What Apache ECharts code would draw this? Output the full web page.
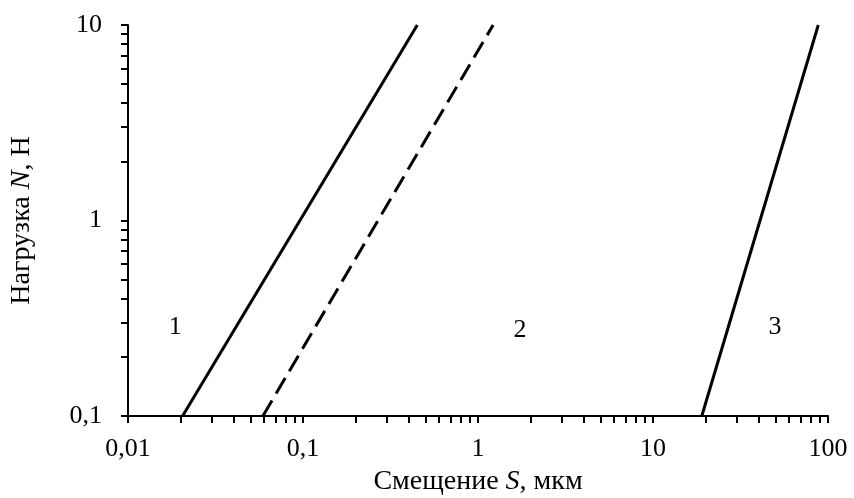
<!DOCTYPE html>
<html>
<head>
<meta charset="utf-8">
<script src="https://cdn.jsdelivr.net/npm/echarts@6/dist/echarts.min.js"></script>
<style>
  html, body { margin: 0; padding: 0; background: #fff; }
  #chart { width: 854px; height: 498px; }
</style>
</head>
<body>
<div id="chart"></div>
<script>
// границы областей 1|2|3 (смещение S, мкм  при нагрузке N, Н)
var loadN = [0.1, 10];
var line1S = [0.0205, 0.45];
var line2S = [0.059, 1.22];
var line3S = [19, 88];

// подписи областей
var regionNames = ['1', '2', '3'];
var regionS = [0.0186, 1.74, 49.8];
var regionN = [0.285, 0.275, 0.285];

var xTickLabels = [0.01, 0.1, 1, 10, 100];
var yTickLabels = [0.1, 1, 10];
var xTicks = [];
var yTicks = [];
[0.01, 0.1, 1, 10].forEach(function (d) {
  for (var k = 1; k < 10; k++) xTicks.push(+(k * d).toPrecision(3));
});
xTicks.push(100);
[0.1, 1].forEach(function (d) {
  for (var k = 1; k < 10; k++) yTicks.push(+(k * d).toPrecision(3));
});
yTicks.push(10);

var FONT = '"Liberation Serif", "Times New Roman", serif';
var fmt = function (v) { return String(v).replace('.', ','); };

var chart = echarts.init(document.getElementById('chart'));

var axisCommon = {
  type: 'log',
  logBase: 10,
  axisLine: { show: true, lineStyle: { color: '#000', width: 2 } },
  axisTick: { show: true, inside: false, length: 7, lineStyle: { color: '#000', width: 2 } },
  minorTick: { show: false },
  splitLine: { show: false },
  nameLocation: 'middle',
  nameTextStyle: {
    fontFamily: FONT, fontSize: 28, color: '#000',
    rich: {
      a: { fontFamily: FONT, fontSize: 28, color: '#000' },
      i: { fontFamily: FONT, fontSize: 28, color: '#000', fontStyle: 'italic' }
    }
  }
};

function pairs(xs, ys) {
  return xs.map(function (x, i) { return [x, ys[i]]; });
}

chart.setOption({
  animation: false,
  backgroundColor: '#fff',
  grid: { left: 128, right: 26, top: 25, bottom: 82, outerBoundsMode: 'none', containLabel: false },
  xAxis: Object.assign({}, axisCommon, {
    min: 0.01, max: 100,
    name: '{a|Смещение }{i|S}{a|, мкм}',
    nameGap: 52,
    axisTick: Object.assign({}, axisCommon.axisTick, { customValues: xTicks }),
    axisLabel: { customValues: xTickLabels, formatter: fmt, margin: 20,
      fontFamily: FONT, fontSize: 26, color: '#000' }
  }),
  yAxis: Object.assign({}, axisCommon, {
    min: 0.1, max: 10,
    name: '{a|Нагрузка }{i|N}{a|, Н}',
    nameGap: 92,
    axisTick: Object.assign({}, axisCommon.axisTick, { customValues: yTicks }),
    axisLabel: { customValues: yTickLabels, formatter: fmt, margin: 26,
      fontFamily: FONT, fontSize: 26, color: '#000' }
  }),
  series: [
    {
      type: 'line', data: pairs(line1S, loadN), symbol: 'none',
      lineStyle: { color: '#000', width: 3 }
    },
    {
      type: 'line', data: pairs(line2S, loadN), symbol: 'none',
      lineStyle: { color: '#000', width: 3, type: [18, 8] }
    },
    {
      type: 'line', data: pairs(line3S, loadN), symbol: 'none',
      lineStyle: { color: '#000', width: 3 }
    },
    {
      type: 'scatter', symbolSize: 1,
      itemStyle: { color: 'rgba(0,0,0,0)', opacity: 1 },
      data: regionS.map(function (s, i) { return { value: [s, regionN[i]], name: regionNames[i] }; }),
      label: { show: true, position: 'inside', formatter: '{b}',
        fontFamily: FONT, fontSize: 26, color: '#000', textBorderWidth: 0 }
    }
  ]
});
</script>
</body>
</html>
